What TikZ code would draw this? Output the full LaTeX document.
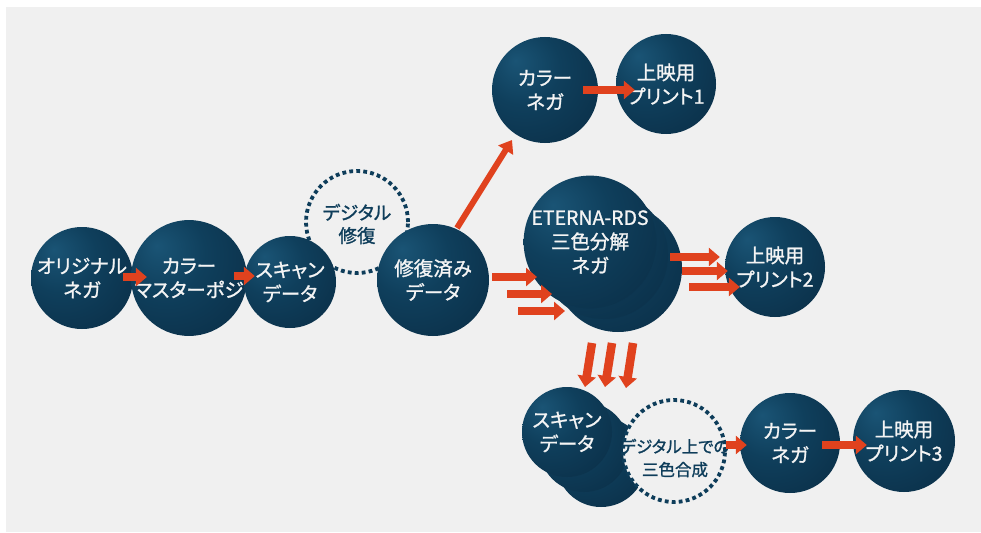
\documentclass[tikz,border=0pt]{standalone}
\usepackage{fontspec}
\setmainfont{Noto Sans CJK JP}[RawFeature={+palt}, FakeBold=1.2]
\usetikzlibrary{arrows.meta,calc}
\definecolor{bg}{HTML}{F0F0F0}
\definecolor{navyL}{HTML}{1A5475}
\definecolor{navyM}{HTML}{0F3F5C}
\definecolor{navyD}{HTML}{0A2C44}
\definecolor{arrred}{HTML}{E0421E}
\definecolor{dotc}{HTML}{0E3D5A}
\definecolor{txtw}{HTML}{F4F4F4}
\pgfdeclareradialshading{navyball}{\pgfpoint{-14bp}{14bp}}{color(0bp)=(navyL); color(18bp)=(navyM); color(46bp)=(navyD); color(80bp)=(navyD)}
\tikzset{
  ball/.style={circle, inner sep=0pt, minimum size=#1, shade, shading=navyball,
    text=txtw, align=center, font=\fontsize{19.5}{24}\selectfont},
  dotring/.style={circle, inner sep=0pt, minimum size=#1, draw=dotc, fill=bg,
    line width=3.8pt, dash pattern=on 3.8pt off 3.2pt},
  dtext/.style={text=dotc, align=center, font=\fontsize{18.5}{23}\selectfont},
  arr/.style={draw=arrred, line width=8.5pt, -{Triangle[length=11pt,width=18pt]}},
  arrthin/.style={draw=arrred, line width=6pt, -{Triangle[length=12pt,width=17pt]}},
}
\begin{document}
\begin{tikzpicture}[x=1pt,y=-1pt]
\useasboundingbox (0,0) rectangle (981,532);
\fill[white] (0,0) rectangle (981,532);
\fill[bg] (6,7) rectangle (981,532);

% dotted ring behind
\node[dotring=102] (dfix) at (357,222) {};
\node[dtext] (dfixt) at (357,224) {デジタル\\修復};

% main row
\node[ball=102] (orig) at (82,278) {オリジナル\\ネガ};
\node[ball=96] (master) at (189,278) {カラー\\マスターポジ};
\node[ball=92] (scan) at (290,282) {スキャン\\データ};
\node[ball=112] (fixed) at (433,280) {修復済み\\データ};

% top branch
\node[ball=106] (negaT) at (545,90) {カラー\\ネガ};
\node[ball=100] (print1) at (666,84) {上映用\\プリント1};

% eterna stack
\node[ball=128] (e3) at (618,268) {};
\node[ball=128] (e2) at (604,255) {};
\node[ball=128] (eterna) at (590,242) {ETERNA-RDS\\三色分解\\ネガ};
\node[ball=100] (print2) at (775,267) {上映用\\プリント2};

% bottom stack
\node[ball=90] (sb3) at (601,462) {};
\node[ball=90] (sb2) at (584,447) {};
\node[ball=90] (scanB) at (567,432) {スキャン\\データ};
\node[dotring=102] (dsyn) at (674,451) {};
\node[dtext, font=\fontsize{16.5}{23}\selectfont] (dsynt) at (675,458) {デジタル上での\\三色合成};
\node[ball=100] (negaB) at (790,443) {カラー\\ネガ};
\node[ball=102] (print3) at (904,441) {上映用\\プリント3};

% arrows main row
\draw[arr] ($(orig.east)+(-10,-1)$) -- ($(master.west)+(16,-1)$);
\draw[arr] ($(master.east)+(-13,-2)$) -- ($(scan.west)+(11,-6)$);

% up arrow
\draw[arrthin] ($(fixed)+(24,-52)$) -- ($(negaT)+(-33,50)$);
\draw[arr] ($(negaT.east)+(-15,0)$) -- ($(print1.west)+(19,6)$);

% into eterna
\draw[arr] ($(fixed.east)+(3,-3)$) -- ($(eterna)+(-53,35)$);
\draw[arr] ($(fixed.east)+(18,14)$) -- ($(eterna)+(-38,52)$);
\draw[arr] ($(fixed.east)+(29,31)$) -- ($(eterna)+(-25,69)$);

% out to print2
\draw[arr] ($(eterna)+(80,15)$) -- ($(print2.west)+(-5,-10)$);
\draw[arr] ($(eterna)+(92,29)$) -- ($(print2.west)+(3,4)$);
\draw[arr] ($(eterna)+(99,45)$) -- ($(print2.west)+(15,20)$);

% down arrows
\draw[arr] ($(e3)+(-26,75)$) -- ($(scanB)+(18,-45)$);
\draw[arr] ($(e3)+(-6,75)$) -- ($(scanB)+(38,-45)$);
\draw[arr] ($(e3)+(15,75)$) -- ($(scanB)+(59,-44)$);

% bottom row
\draw[arr] ($(dsyn.east)+(-1,-6)$) -- ($(negaB.west)+(7,2)$);
\draw[arr] ($(negaB.east)+(-18,2)$) -- ($(print3.west)+(14,4)$);
\end{tikzpicture}
\end{document}
